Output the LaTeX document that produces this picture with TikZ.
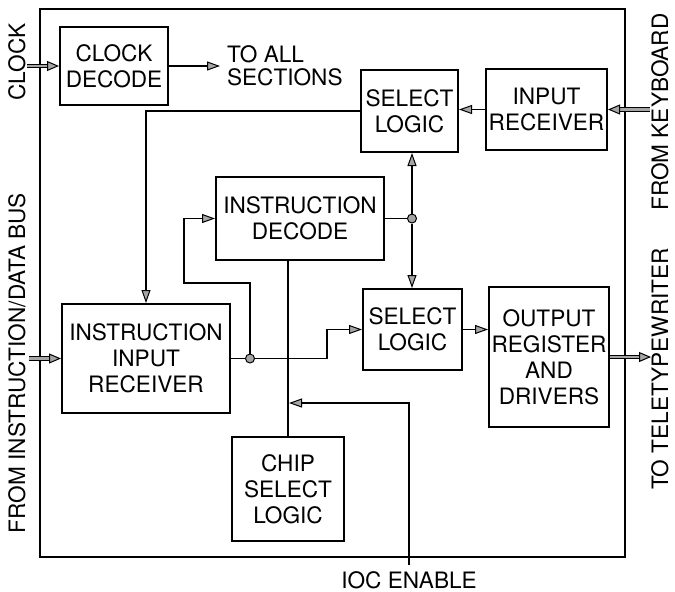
\documentclass[tikz,border=0pt]{standalone}
\usepackage{fontspec}
\setmainfont{TeX Gyre Heros}
\usetikzlibrary{arrows.meta, calc, positioning}

\tikzset{
  blk/.style={draw, line width=1pt, align=center, inner sep=0pt,
    font=\fontsize{11.3}{13}\selectfont},
  wire/.style={line width=0.9pt},
  sig/.style={line width=0.9pt,
    -{Triangle[fill=gray!70, line width=0.5pt, length=6.5pt, width=4.5pt]}},
  ext/.style={draw=black, line width=0.4pt, double=gray!70, double distance=1.4pt,
    -{Triangle[fill=gray!70, line width=0.5pt, length=6pt, width=5pt]}},
  jdot/.style={circle, draw, line width=0.5pt, fill=gray!70, inner sep=0pt, minimum size=4.5pt},
  side/.style={rotate=90, font=\fontsize{11.3}{13}\selectfont},
  txt/.style={font=\fontsize{11.3}{11.5}\selectfont, align=left}
}

\begin{document}
\begin{tikzpicture}[x=0.5pt, y=-0.5pt]
\useasboundingbox (0,0) rectangle (675,591);

% chip outline
\draw[line width=1.1pt] (40,9) rectangle (625,557);

% blocks
\node[blk, minimum width=54pt, minimum height=39pt] (clk) at (114,66) {CLOCK\\DECODE};
\node[blk, minimum width=48.5pt, minimum height=41pt] (sel1) at (409.5,111) {SELECT\\LOGIC};
\node[blk, minimum width=60.5pt, minimum height=40.5pt] (inrx) at (546.5,109.5) {INPUT\\RECEIVER};
\node[blk, minimum width=84pt, minimum height=41.5pt] (idec) at (300,218.5) {INSTRUCTION\\DECODE};
\node[blk, minimum width=84pt, minimum height=54.5pt] (iir) at (146,358.5) {INSTRUCTION\\INPUT\\RECEIVER};
\node[blk, minimum width=49.5pt, minimum height=40.5pt] (sel2) at (412.5,329.5) {SELECT\\LOGIC};
\node[blk, minimum width=60pt, minimum height=70pt] (outr) at (549,357) {OUTPUT\\REGISTER\\AND\\DRIVERS};
\node[blk, minimum width=56pt, minimum height=52pt] (chip) at (288,489) {CHIP\\SELECT\\LOGIC};

% junctions
\node[jdot] (j1) at (250,358.5) {};
\node[jdot] (j2) at (412,218.5) {};

% free ends
\coordinate (clkin) at (27,66);
\coordinate (allsec) at (220,66);
\coordinate (kbd) at (650,109.5);
\coordinate (dbin) at (29,358.5);
\coordinate (tty) at (651,357);
\coordinate (fbk) at (184,283);
\coordinate (jog) at (327,358.5);
\coordinate (ioc) at (409,565);
\coordinate (ioctap) at (289,403);

% outside signals
\draw[ext] (clkin) -- (clk.west);
\draw[ext] (kbd) -- (inrx.east);
\draw[ext] (dbin) -- (iir.west);
\draw[ext] (outr.east) -- (tty);

% inside signals
\draw[sig] (clk.east) -- (allsec);
\draw[sig] (inrx.west) -- (inrx.west -| sel1.east);
\draw[sig] (sel1.west) -| (iir.north);
\draw[wire] (iir.east) -- (j1.west);
\draw[sig] (j1.north) |- (fbk) |- (idec.west);
\draw[sig] (j1.east) -- (jog) |- (sel2.west);
\draw[wire] (idec.east) -- (j2.west);
\draw[sig] (j2.north) -- (j2 |- sel1.south);
\draw[sig] (j2.south) -- (j2 |- sel2.north);
\draw[sig] (sel2.east) -- (sel2.east -| outr.west);
\draw[wire] (idec.south -| chip.north) -- (chip.north);
\draw[sig] (ioc) |- (ioctap);

% labels
\node[txt, anchor=west] (allsecl) at (allsec) {TO ALL\\SECTIONS};
\node[txt, anchor=north] (iocl) at (ioc) {IOC ENABLE};
\node[side] (clkl) at (17,62) {CLOCK};
\node[side] (dbl) at (17,363) {FROM INSTRUCTION/DATA BUS};
\node[side] (kbl) at (660,112) {FROM KEYBOARD};
\node[side] (ttl) at (660,369) {TO TELETYPEWRITER};
\end{tikzpicture}
\end{document}
